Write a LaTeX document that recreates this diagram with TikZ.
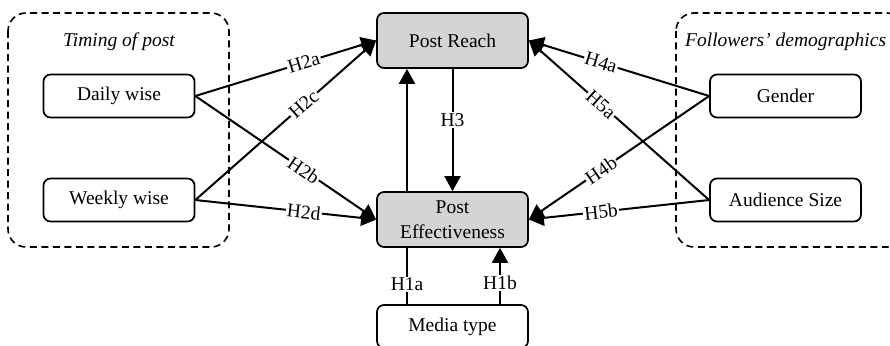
\documentclass[tikz,border=0pt]{standalone}
\usepackage{fontspec}
\setmainfont{Liberation Serif}
\usetikzlibrary{arrows.meta}
\begin{document}
\begin{tikzpicture}[x=1pt,y=-1pt,
  txt/.style={font=\fontsize{19.5}{25}\selectfont},
  box/.style={txt, draw, line width=1.7pt, rounded corners=7pt, minimum width=151pt, minimum height=43pt, align=center, inner sep=0pt, fill=white},
  greybox/.style={box, fill=black!17, minimum height=55pt},
  group/.style={draw, dashed, line width=1.6pt, dash pattern=on 7pt off 4.5pt, rounded corners=18pt},
  arr/.style={line width=2pt, -{Triangle[length=15pt,width=16pt]}},
  plain/.style={line width=2pt},
  lab/.style={txt, fill=white, inner sep=1.2pt, sloped, pos=0.6},
  vlab/.style={txt, fill=white, inner sep=1.2pt}
]
\useasboundingbox (0,0) rectangle (890,345);
% groups
\draw[group] (8,13) rectangle (229,247);
\draw[group] (676,13) rectangle (905,247);
\node[txt, font=\fontsize{19.5}{25}\selectfont\itshape] (tp) at (119,42) {Timing of post};
\node[txt, font=\fontsize{19.5}{25}\selectfont\itshape, anchor=west, inner sep=0pt] (fd) at (685,42) {Followers’ demographics};
% nodes
\node[box] (dw) at (119,96) {Daily wise};
\node[box] (ww) at (119,200) {Weekly wise};
\node[greybox] (pr) at (452.5,40.5) {Post Reach};
\node[greybox] (pe) at (452.5,219.5) {Post\\Effectiveness};
\node[box] (mt) at (452.5,326.5) {Media type};
\node[box] (ge) at (785.5,96) {Gender};
\node[box] (as) at (785.5,200) {Audience Size};
% left arrows
\draw[arr] (dw.east) -- (pr.west) node[lab] {H2a};
\draw[arr] (ww.east) -- (pr.west) node[lab] {H2c};
\draw[arr] (dw.east) -- (pe.west) node[lab] {H2b};
\draw[arr] (ww.east) -- (pe.west) node[lab] {H2d};
% right arrows
\draw[arr] (ge.west) -- (pr.east) node[lab] {H4a};
\draw[arr] (as.west) -- (pr.east) node[lab] {H5a};
\draw[arr] (ge.west) -- (pe.east) node[lab] {H4b};
\draw[arr] (as.west) -- (pe.east) node[lab] {H5b};
% vertical
\draw[arr] ([xshift=-45.5pt]pe.north) -- ([xshift=-45.5pt]pr.south);
\draw[arr] (pr.south) -- (pe.north) node[vlab, pos=0.42] {H3};
\draw[plain] ([xshift=-45.5pt]pe.south) -- ([xshift=-45.5pt]mt.north) node[vlab, pos=0.65] {H1a};
\draw[arr] ([xshift=47.5pt]mt.north) -- ([xshift=47.5pt]pe.south) node[vlab, pos=0.38] {H1b};
\end{tikzpicture}
\end{document}
